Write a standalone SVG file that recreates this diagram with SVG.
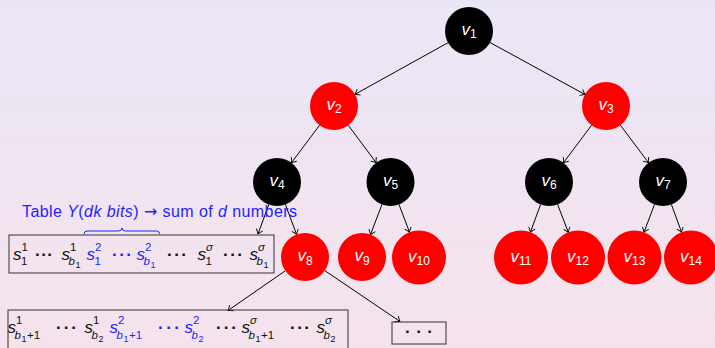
<svg xmlns="http://www.w3.org/2000/svg" width="715" height="348" viewBox="0 0 715 348">
<defs>
<linearGradient id="bg" x1="0" y1="0" x2="0" y2="1">
<stop offset="0" stop-color="#ebe6f6"/>
<stop offset="1" stop-color="#f5e3ec"/>
</linearGradient>
<marker id="arr" viewBox="-6 -4 7 8" refX="0" refY="0" markerWidth="7" markerHeight="8" markerUnits="userSpaceOnUse" orient="auto">
<path d="M-4.5,-3.4 Q-1.5,-0.9 0,0 Q-1.5,0.9 -4.5,3.4" fill="none" stroke="#000" stroke-width="0.9"/>
</marker>
<style>
text{font-family:"Liberation Sans",Arial,"DejaVu Sans",sans-serif;}
.edge{stroke:#000;stroke-width:1;fill:none;marker-end:url(#arr);}
.blk{fill:#000;}
.red{fill:#ff0000;}
.lbl{fill:#fff;font-size:17px;text-anchor:middle;}
.it{font-style:italic;}
.sub{font-size:12px;font-style:normal;}
.m{font-size:17px;font-style:italic;fill:#111;}
.sp{font-size:11.5px;fill:#111;}
.sb{font-size:11.5px;font-style:italic;fill:#111;}
.ss{font-size:9px;fill:#111;}
.dt{font-size:17px;font-weight:bold;fill:#111;}
.bl{fill:#1f1fff;}
.box{fill:none;stroke:#333;stroke-width:1;}
</style>
</defs>
<rect x="0" y="0" width="715" height="348" fill="url(#bg)"/>

<g id="connectors">
<line class="edge" x1="448" y1="42.7" x2="355" y2="94.3"/>
<line class="edge" x1="490" y1="42.5" x2="585" y2="94.5"/>
<line class="edge" x1="319.6" y1="125.2" x2="291.4" y2="162.8"/>
<line class="edge" x1="348.3" y1="125.3" x2="376.2" y2="162.7"/>
<line class="edge" x1="591.6" y1="125.2" x2="563.4" y2="162.8"/>
<line class="edge" x1="620.4" y1="125.2" x2="648.6" y2="162.8"/>
<line class="edge" x1="268.8" y1="204.5" x2="258" y2="234"/>
<line class="edge" x1="285.4" y1="204.5" x2="296.6" y2="234.5"/>
<line class="edge" x1="382" y1="204.4" x2="370.5" y2="234.6"/>
<line class="edge" x1="399" y1="204.5" x2="409.5" y2="232.2"/>
<line class="edge" x1="540.6" y1="204.5" x2="530.4" y2="232.2"/>
<line class="edge" x1="557.6" y1="204.4" x2="568.3" y2="232.3"/>
<line class="edge" x1="654.5" y1="204.5" x2="644" y2="232.2"/>
<line class="edge" x1="671.4" y1="204.5" x2="681.6" y2="232.2"/>
<line class="edge" x1="285.3" y1="270.8" x2="228" y2="310.5"/>
<line class="edge" x1="324.8" y1="270.6" x2="400" y2="321.5"/>
</g>

<g id="v1"><circle class="blk" cx="469" cy="31" r="24"/><text class="lbl" x="469" y="34.5"><tspan class="it">v</tspan><tspan class="sub" dy="3.5">1</tspan></text></g>
<g id="v2"><circle class="red" cx="334" cy="106" r="24"/><text class="lbl" x="334" y="109.5"><tspan class="it">v</tspan><tspan class="sub" dy="3.5">2</tspan></text></g>
<g id="v3"><circle class="red" cx="606" cy="106" r="24"/><text class="lbl" x="606" y="109.5"><tspan class="it">v</tspan><tspan class="sub" dy="3.5">3</tspan></text></g>
<g id="v4"><circle class="blk" cx="277" cy="182" r="24"/><text class="lbl" x="277" y="185.5"><tspan class="it">v</tspan><tspan class="sub" dy="3.5">4</tspan></text></g>
<g id="v5"><circle class="blk" cx="390.5" cy="182" r="24"/><text class="lbl" x="390.5" y="185.5"><tspan class="it">v</tspan><tspan class="sub" dy="3.5">5</tspan></text></g>
<g id="v6"><circle class="blk" cx="549" cy="182" r="24"/><text class="lbl" x="549" y="185.5"><tspan class="it">v</tspan><tspan class="sub" dy="3.5">6</tspan></text></g>
<g id="v7"><circle class="blk" cx="663" cy="182" r="24"/><text class="lbl" x="663" y="185.5"><tspan class="it">v</tspan><tspan class="sub" dy="3.5">7</tspan></text></g>
<g id="v8"><circle class="red" cx="305" cy="257" r="24"/><text class="lbl" x="305" y="261"><tspan class="it">v</tspan><tspan class="sub" dy="3.5">8</tspan></text></g>
<g id="v9"><circle class="red" cx="362" cy="257" r="24"/><text class="lbl" x="362" y="261"><tspan class="it">v</tspan><tspan class="sub" dy="3.5">9</tspan></text></g>
<g id="v10"><circle class="red" cx="419" cy="257.5" r="27"/><text class="lbl" x="419" y="261.5"><tspan class="it">v</tspan><tspan class="sub" dy="3.5">10</tspan></text></g>
<g id="v11"><circle class="red" cx="521" cy="257.5" r="27"/><text class="lbl" x="521" y="261.5"><tspan class="it">v</tspan><tspan class="sub" dy="3.5">11</tspan></text></g>
<g id="v12"><circle class="red" cx="578" cy="257.5" r="27"/><text class="lbl" x="578" y="261.5"><tspan class="it">v</tspan><tspan class="sub" dy="3.5">12</tspan></text></g>
<g id="v13"><circle class="red" cx="634.5" cy="257.5" r="27"/><text class="lbl" x="634.5" y="261.5"><tspan class="it">v</tspan><tspan class="sub" dy="3.5">13</tspan></text></g>
<g id="v14"><circle class="red" cx="691" cy="257.5" r="27"/><text class="lbl" x="691" y="261.5"><tspan class="it">v</tspan><tspan class="sub" dy="3.5">14</tspan></text></g>

<g id="caption">
<text x="22" y="216.5" font-size="16" fill="#1f1fff" textLength="275" lengthAdjust="spacing">Table <tspan font-style="italic">Y</tspan>(<tspan font-style="italic">dk bits</tspan>) <tspan style="font-family:'DejaVu Sans',sans-serif">→</tspan> sum of <tspan font-style="italic">d</tspan> numbers</text>
<path d="M84,234 Q84,231 87,231 L118.5,231 Q121.5,231 122,228 Q122.5,231 125.5,231 L156.5,231 Q159.5,231 159.5,234" fill="none" stroke="#1f1fff" stroke-width="1"/>
</g>

<g id="table1">
<rect class="box" x="9" y="235" width="265" height="38"/>
<text class="m" x="13" y="260">s</text><text class="sp" x="21.5" y="251">1</text><text class="sp" x="21" y="265">1</text>
<text class="dt" x="35" y="260" textLength="18" lengthAdjust="spacing">· · ·</text>
<text class="m" x="61.5" y="260">s</text><text class="sp" x="70" y="251">1</text><text class="sb" x="68.5" y="265">b</text><text class="ss" x="75.5" y="268">1</text>
<text class="m bl" x="86.5" y="260">s</text><text class="sp bl" x="95" y="251">2</text><text class="sp bl" x="94.5" y="265">1</text>
<text class="dt bl" x="112" y="260" textLength="20" lengthAdjust="spacing">· · ·</text>
<text class="m bl" x="136.5" y="260">s</text><text class="sp bl" x="145" y="251">2</text><text class="sb bl" x="143.5" y="265">b</text><text class="ss bl" x="150.5" y="268">1</text>
<text class="dt" x="167" y="260" textLength="20" lengthAdjust="spacing">· · ·</text>
<text class="m" x="197.5" y="260">s</text><text class="sb" x="206" y="251">σ</text><text class="sp" x="205.5" y="265">1</text>
<text class="dt" x="223" y="260" textLength="20" lengthAdjust="spacing">· · ·</text>
<text class="m" x="249.5" y="260">s</text><text class="sb" x="258" y="251">σ</text><text class="sb" x="256.5" y="265">b</text><text class="ss" x="263.5" y="268">1</text>
</g>

<g id="table2">
<rect class="box" x="8" y="310" width="340" height="44"/>
<text class="m" x="7.5" y="333">s</text><text class="sp" x="16" y="324">1</text><text class="sb" x="14.5" y="339">b</text><text class="ss" x="21.5" y="342">1</text><text class="sp" x="27" y="339">+1</text>
<text class="dt" x="56" y="333" textLength="21" lengthAdjust="spacing">· · ·</text>
<text class="m" x="84.5" y="333">s</text><text class="sp" x="93" y="324">1</text><text class="sb" x="91.5" y="339">b</text><text class="ss" x="98.5" y="342">2</text>
<text class="m bl" x="109.5" y="333">s</text><text class="sp bl" x="118" y="324">2</text><text class="sb bl" x="116.5" y="339">b</text><text class="ss bl" x="123.5" y="342">1</text><text class="sp bl" x="129" y="339">+1</text>
<text class="dt bl" x="158" y="333" textLength="22" lengthAdjust="spacing">· · ·</text>
<text class="m bl" x="184.5" y="333">s</text><text class="sp bl" x="193" y="324">2</text><text class="sb bl" x="191.5" y="339">b</text><text class="ss bl" x="198.5" y="342">2</text>
<text class="dt" x="216" y="333" textLength="21" lengthAdjust="spacing">· · ·</text>
<text class="m" x="241.5" y="333">s</text><text class="sb" x="250" y="324">σ</text><text class="sb" x="248.5" y="339">b</text><text class="ss" x="255.5" y="342">1</text><text class="sp" x="261" y="339">+1</text>
<text class="dt" x="290" y="333" textLength="20" lengthAdjust="spacing">· · ·</text>
<text class="m" x="316.5" y="333">s</text><text class="sb" x="325" y="324">σ</text><text class="sb" x="323.5" y="339">b</text><text class="ss" x="330.5" y="342">2</text>
</g>

<g id="more">
<rect class="box" x="392" y="322" width="54" height="22"/>
<text x="405" y="337" font-size="17" font-weight="bold" fill="#111" textLength="28" lengthAdjust="spacing">· · ·</text>
</g>
</svg>
